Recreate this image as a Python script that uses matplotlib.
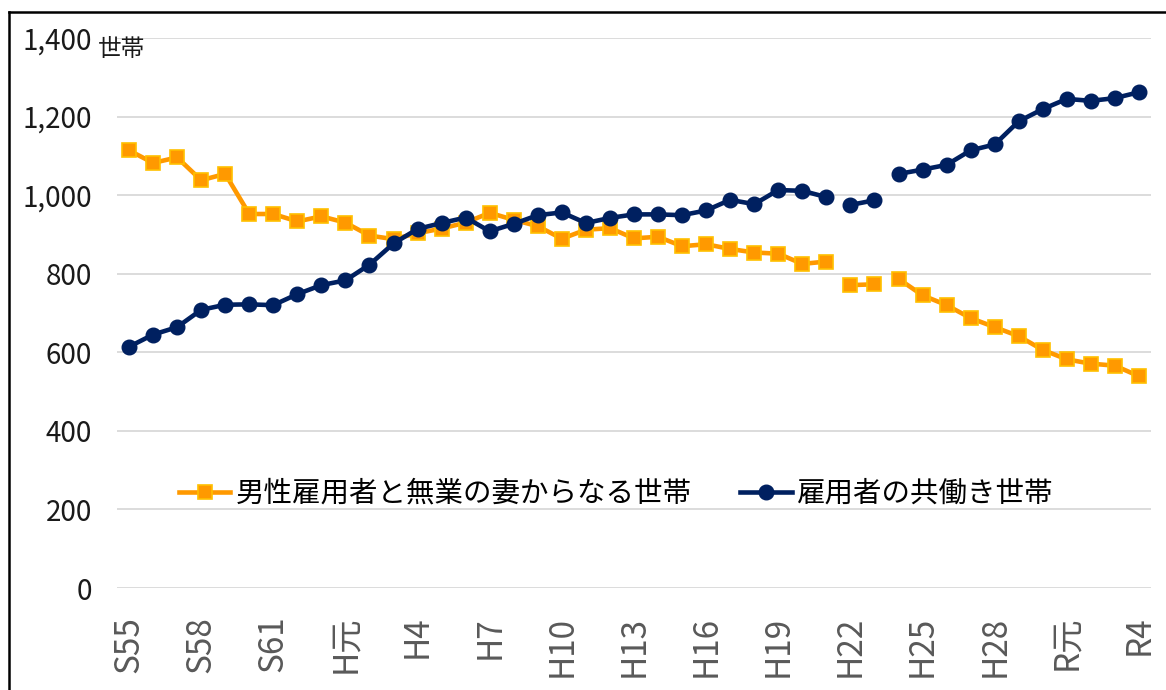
import matplotlib
matplotlib.use("Agg")
import matplotlib.pyplot as plt
from matplotlib.lines import Line2D

plt.rcParams['font.family'] = ['Noto Sans CJK JP', 'DejaVu Sans']

years = ["S55", "S56", "S57", "S58", "S59", "S60", "S61", "S62", "S63", "H元",
         "H2", "H3", "H4", "H5", "H6", "H7", "H8", "H9", "H10", "H11",
         "H12", "H13", "H14", "H15", "H16", "H17", "H18", "H19", "H20", "H21",
         "H22", "H23", "H24", "H25", "H26", "H27", "H28", "H29", "H30", "R元",
         "R2", "R3", "R4"]
tick_labels = ["S55", "S58", "S61", "H元", "H4", "H7", "H10", "H13", "H16", "H19",
               "H22", "H25", "H28", "R元", "R4"]

housewife = [1114, 1082, 1096, 1038, 1054, 952, 952, 933, 946, 930,
             897, 888, 903, 915, 930, 955, 937, 921, 889, 912,
             916, 890, 894, 870, 875, 863, 854, 851, 825, 831,
             771, 773, 787, 745, 720, 687, 664, 641, 606, 582,
             571, 566, 539]
dual = [614, 645, 664, 708, 721, 722, 720, 748, 771, 783,
        823, 877, 914, 929, 943, 908, 927, 949, 956, 929,
        942, 951, 951, 949, 961, 988, 977, 1013, 1011, 995,
        975, 987, 1054, 1065, 1077, 1114, 1129, 1188, 1219, 1245,
        1240, 1247, 1262]
series_names = ["男性雇用者と無業の妻からなる世帯", "雇用者の共働き世帯"]
segments = [(0, 30), (30, 32), (32, 43)]

W, H = 1166, 690
fig = plt.figure(figsize=(W / 100, H / 100), dpi=100)
ax = fig.add_axes([117 / W, 1 - 588 / H, (1151 - 117) / W, (588 - 38) / H])

x = list(range(len(years)))
orange_kw = dict(color='#FF9900', lw=3.3, marker='s', ms=10.5,
                 markerfacecolor='#FF9900', markeredgecolor='#FFC000', mew=1.2)
navy_kw = dict(color='#002060', lw=3.3, marker='o', ms=10.5,
               markerfacecolor='#002060', markeredgecolor='#002060', mew=1.0)
handles = []
for i, (a, b) in enumerate(segments):
    l1, = ax.plot(x[a:b], housewife[a:b], zorder=3, **orange_kw)
    if i == 0:
        handles.append(l1)
for i, (a, b) in enumerate(segments):
    l2, = ax.plot(x[a:b], dual[a:b], zorder=4, **navy_kw)
    if i == 0:
        handles.append(l2)

ax.set_xlim(-0.5, len(years) - 0.5)
ax.set_ylim(0, 1400)
yt = list(range(0, 1401, 200))
ax.set_yticks(yt)
ax.set_yticklabels([f"{v:,}" for v in yt], fontsize=20, color='#1a1a1a')
ax.grid(axis='y', color='#D9D9D9', lw=1.3)
ax.set_axisbelow(True)
for s in ax.spines.values():
    s.set_visible(False)

tick_pos = [years.index(t) for t in tick_labels]
ax.set_xticks(tick_pos)
ax.set_xticklabels(tick_labels, rotation=90, fontsize=24, color='#595959',
                   va='top', ha='center')
ax.tick_params(axis='x', length=0, pad=20)
ax.tick_params(axis='y', length=0, pad=18)

ax.legend(handles, series_names, loc='center', bbox_to_anchor=(0.483, 0.171),
          ncol=2, frameon=False, fontsize=20.5, handlelength=1.8,
          handletextpad=0.2, columnspacing=1.7, borderaxespad=0)

fig.text(98 / W, 1 - 49 / H, "世帯", fontsize=17, color='#1a1a1a',
         ha='left', va='center')

# outer frame (left and top edges visible)
fig.add_artist(Line2D([9 / W, 9 / W], [0, 1 - 12 / H], transform=fig.transFigure,
                      color='black', lw=1.8))
fig.add_artist(Line2D([9 / W, 1], [1 - 12 / H, 1 - 12 / H], transform=fig.transFigure,
                      color='black', lw=1.8))

fig.savefig("out.png", dpi=100, facecolor='white')
